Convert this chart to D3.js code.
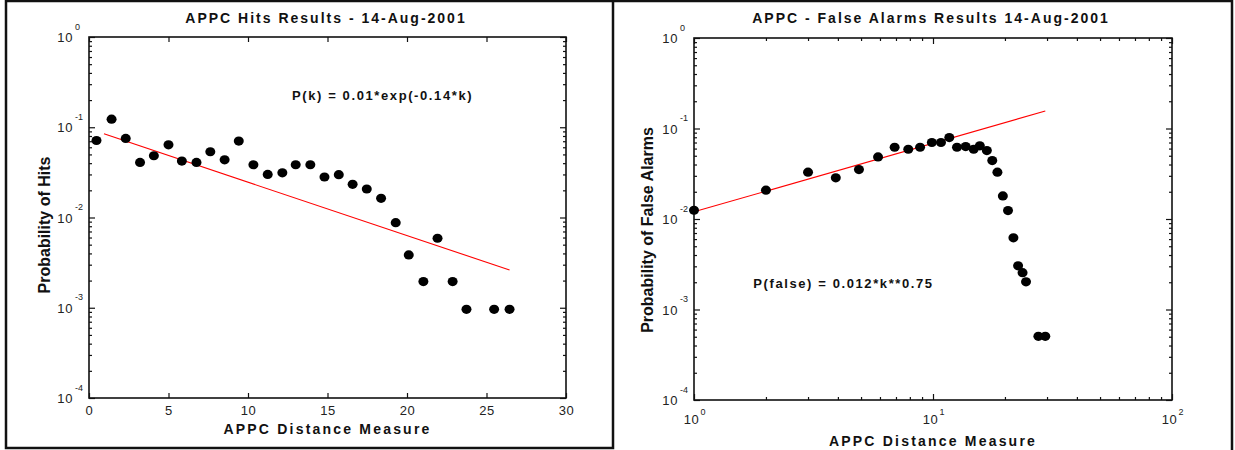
<!DOCTYPE html>
<html>
<head>
<meta charset="utf-8">
<script src="https://cdn.jsdelivr.net/npm/d3@7"></script>
<style>
  body { margin: 0; background: #fff; }
  svg { display: block; font-family: Arial, "Liberation Sans", sans-serif; }
</style>
</head>
<body>
<div id="chart-container"></div>
<script>
// data
const hitsK = [0.47, 1.42, 2.31, 3.21, 4.08, 5.0, 5.84, 6.76, 7.63, 8.53, 9.42, 10.34, 11.24, 12.16, 13.0,
  13.92, 14.81, 15.71, 16.58, 17.47, 18.37, 19.29, 20.11, 21.03, 21.92, 22.87, 23.74, 25.48, 26.45];
const hitsP = [0.0713, 0.123, 0.0751, 0.0408, 0.0483, 0.0639, 0.0422, 0.0408, 0.0535, 0.0436, 0.0702, 0.0384,
  0.030, 0.0313, 0.0384, 0.0384, 0.0281, 0.0298, 0.0233, 0.0207, 0.0163, 0.00877, 0.00385, 0.00195, 0.00589,
  0.00195, 0.00096, 0.00096, 0.00096];
const hitsFitK = [0.94, 26.45];
const hitsFitP = [0.0845, 0.00262];

const faK = [1, 2, 3, 3.92, 4.9, 5.89, 6.91, 7.88, 8.83, 9.89, 10.8, 11.7, 12.6, 13.7, 14.8, 15.7, 16.8,
  17.7, 18.6, 19.6, 20.6, 21.7, 22.7, 23.7, 24.5, 27.6, 29.5];
const faP = [0.0125, 0.0208, 0.0329, 0.0285, 0.0352, 0.0485, 0.0621, 0.059, 0.0621, 0.070, 0.070, 0.0794,
  0.0621, 0.0632, 0.059, 0.0643, 0.057, 0.0442, 0.0329, 0.018, 0.0124, 0.0062, 0.00304, 0.00255, 0.00202,
  0.000505, 0.000505];
const faFitK = [1, 29.5];
const faFitP = [0.012, 0.156];

const probDecades = [1e-4, 1e-3, 1e-2, 1e-1, 1];
const probExponents = ["-4", "-3", "-2", "-1", "0"];
const hitsXTicks = [0, 5, 10, 15, 20, 25, 30];
const faXDecades = [1, 10, 100];
const faXExponents = ["0", "1", "2"];

((() => {
  const width = 1235;
  const height = 450;

  const svg = d3.create("svg")
    .attr("width", width)
    .attr("height", height)
    .attr("viewBox", [0, 0, width, height]);

  // panel frames
  svg.append("rect")
    .attr("x", 6).attr("y", 1).attr("width", 607).attr("height", 447)
    .attr("fill", "none").attr("stroke", "#111").attr("stroke-width", 2.5);
  svg.append("path")
    .attr("d", "M613,1H1232V452")
    .attr("fill", "none").attr("stroke", "#111").attr("stroke-width", 2.5);

  function minorLog(domain) {
    const out = [];
    for (let d = domain[0]; d < domain[1]; d *= 10) {
      for (let m = 2; m <= 9; m++) out.push(d * m);
    }
    return out;
  }

  function styleAxis(g) {
    g.attr("font-family", null);
    g.select(".domain").remove();
    g.selectAll("line").attr("stroke", "#111").attr("stroke-width", 1.2);
  }

  // decade labels written as 10 with a raised exponent
  function powerLabels(g, exps, vertical) {
    g.selectAll(".tick text").remove();
    g.selectAll(".tick").each(function(d, i) {
      const t = d3.select(this);
      if (vertical) {
        t.append("text").attr("x", -16).attr("dy", "0.36em")
          .attr("text-anchor", "end").attr("font-size", 13).attr("fill", "#222")
          .attr("letter-spacing", 0.6).text("10");
        t.append("text").attr("x", -14).attr("y", -8)
          .attr("text-anchor", "start")
          .attr("font-size", 9).attr("fill", "#222").text(exps[i]);
      } else {
        t.append("text").attr("x", -3).attr("y", 24)
          .attr("text-anchor", "middle").attr("font-size", 13).attr("fill", "#222")
          .attr("letter-spacing", 0.6).text("10");
        t.append("text").attr("x", 6).attr("y", 14.5)
          .attr("text-anchor", "start")
          .attr("font-size", 9).attr("fill", "#222").text(exps[i]);
      }
    });
  }

  function panel(o) {
    const x = o.x, y = o.y;
    const [x0, x1] = x.range();
    const [y0, y1] = y.range();
    const g = svg.append("g");

    // y axis: majors and minors, left and mirrored right, all inward
    const yMinor = minorLog(y.domain());
    g.append("g").attr("transform", `translate(${x0},0)`)
      .call(d3.axisLeft(y).tickValues(probDecades).tickSize(-6))
      .call(styleAxis).call(a => powerLabels(a, probExponents, true));
    g.append("g").attr("transform", `translate(${x0},0)`)
      .call(d3.axisLeft(y).tickValues(yMinor).tickSize(-3).tickFormat(""))
      .call(styleAxis);
    g.append("g").attr("transform", `translate(${x1},0)`)
      .call(d3.axisRight(y).tickValues(probDecades).tickSize(-6).tickFormat(""))
      .call(styleAxis);
    g.append("g").attr("transform", `translate(${x1},0)`)
      .call(d3.axisRight(y).tickValues(yMinor).tickSize(-3).tickFormat(""))
      .call(styleAxis);

    // x axis
    if (o.logX) {
      const xMinor = minorLog(x.domain());
      g.append("g").attr("transform", `translate(0,${y0})`)
        .call(d3.axisBottom(x).tickValues(faXDecades).tickSize(-6))
        .call(styleAxis).call(a => powerLabels(a, faXExponents, false));
      g.append("g").attr("transform", `translate(0,${y0})`)
        .call(d3.axisBottom(x).tickValues(xMinor).tickSize(-3).tickFormat(""))
        .call(styleAxis);
      g.append("g").attr("transform", `translate(0,${y1})`)
        .call(d3.axisTop(x).tickValues(faXDecades).tickSize(-6).tickFormat(""))
        .call(styleAxis);
      g.append("g").attr("transform", `translate(0,${y1})`)
        .call(d3.axisTop(x).tickValues(xMinor).tickSize(-3).tickFormat(""))
        .call(styleAxis);
    } else {
      g.append("g").attr("transform", `translate(0,${y0})`)
        .call(d3.axisBottom(x).tickValues(hitsXTicks).tickSize(-5).tickPadding(8))
        .call(styleAxis)
        .call(a => a.selectAll(".tick text").attr("font-size", 13).attr("fill", "#222")
          .attr("letter-spacing", 0.6));
      g.append("g").attr("transform", `translate(0,${y1})`)
        .call(d3.axisTop(x).tickValues(hitsXTicks).tickSize(-5).tickFormat(""))
        .call(styleAxis);
    }

    // plot frame
    g.append("rect")
      .attr("x", x0).attr("y", y1).attr("width", x1 - x0).attr("height", y0 - y1)
      .attr("fill", "none").attr("stroke", "#111").attr("stroke-width", 1.6);

    // fitted line
    const line = d3.line().x(d => x(d[0])).y(d => y(d[1]));
    g.append("path")
      .datum(d3.zip(o.fitK, o.fitP))
      .attr("d", line)
      .attr("fill", "none").attr("stroke", "#f00").attr("stroke-width", 1.1);

    // points
    g.append("g").attr("fill", "#000")
      .selectAll("ellipse")
      .data(d3.zip(o.k, o.p))
      .join("ellipse")
      .attr("cx", d => x(d[0]))
      .attr("cy", d => y(d[1]))
      .attr("rx", 5).attr("ry", 4.6);

    // titles
    g.append("text")
      .attr("x", o.titleX).attr("y", 23).attr("text-anchor", "middle")
      .attr("font-size", 14).attr("font-weight", "bold").attr("letter-spacing", 2)
      .attr("fill", "#111").text(o.title);
    g.append("text")
      .attr("x", (x0 + x1) / 2).attr("y", o.xTitleY).attr("text-anchor", "middle")
      .attr("font-size", 14).attr("font-weight", "bold").attr("letter-spacing", 2.2)
      .attr("fill", "#111").text("APPC Distance Measure");
    g.append("text")
      .attr("transform", `translate(${o.yTitleX},${o.yTitleY}) rotate(-90)`)
      .attr("text-anchor", "middle")
      .attr("font-size", 16).attr("font-weight", "bold")
      .attr("fill", "#111").text(o.yTitle);
    g.append("text")
      .attr("x", x(o.noteAt[0])).attr("y", y(o.noteAt[1]))
      .attr("font-size", 13).attr("font-weight", "bold").attr("letter-spacing", 1.6)
      .attr("fill", "#111").text(o.note);
  }

  panel({
    x: d3.scaleLinear().domain([0, 30]).range([89, 566]),
    y: d3.scaleLog().domain([1e-4, 1]).range([398, 37]),
    logX: false,
    k: hitsK, p: hitsP, fitK: hitsFitK, fitP: hitsFitP,
    title: "APPC Hits Results - 14-Aug-2001", titleX: 326,
    xTitleY: 434,
    yTitle: "Probability of Hits", yTitleX: 50, yTitleY: 225,
    note: "P(k) = 0.01*exp(-0.14*k)", noteAt: [12.77, 0.2]
  });

  panel({
    x: d3.scaleLog().domain([1, 100]).range([694, 1172]),
    y: d3.scaleLog().domain([1e-4, 1]).range([400, 38]),
    logX: true,
    k: faK, p: faP, fitK: faFitK, fitP: faFitP,
    title: "APPC - False Alarms Results 14-Aug-2001", titleX: 931,
    xTitleY: 446,
    yTitle: "Probability of False Alarms", yTitleX: 653, yTitleY: 230,
    note: "P(false) = 0.012*k**0.75", noteAt: [1.77, 0.00172]
  });

  d3.select("#chart-container").append(() => svg.node());
})());
</script>
</body>
</html>
